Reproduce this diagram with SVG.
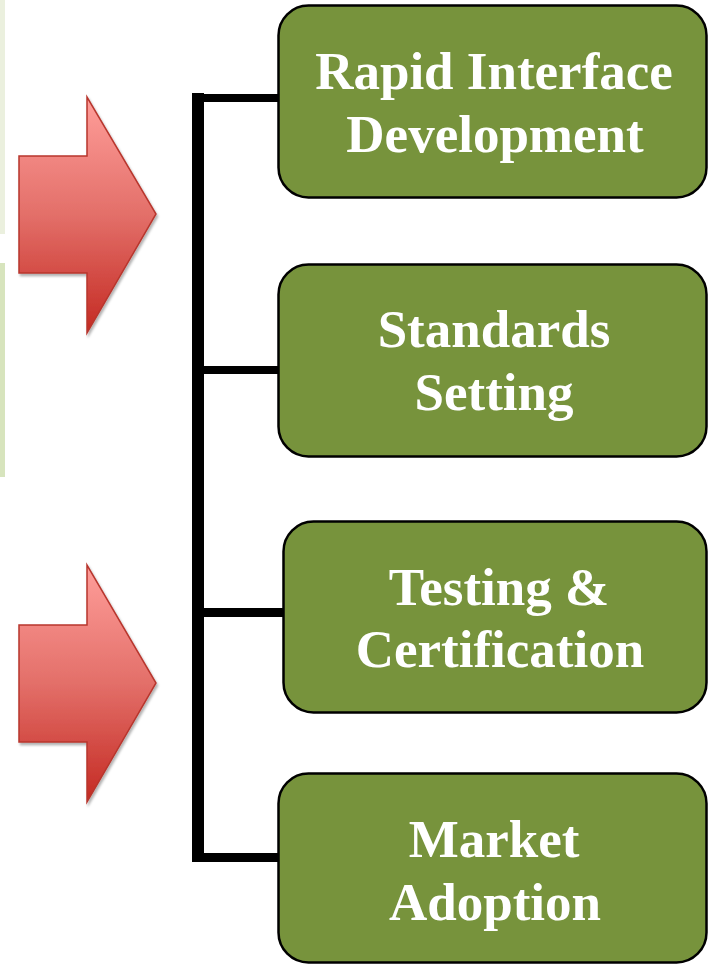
<svg xmlns="http://www.w3.org/2000/svg" width="708" height="965" viewBox="0 0 708 965">
<style>
.box{fill:#77933c;stroke:#000;stroke-width:2.5}
.lbl{font-family:"Liberation Serif","Times New Roman",serif;font-weight:bold;font-size:53px;fill:#fff;text-anchor:middle}
.arrow{fill:url(#redgrad);stroke:#b8362d;stroke-width:1.5;filter:url(#shadow)}
.conn{fill:#000}
</style>
<defs>
<linearGradient id="redgrad" x1="0" y1="0" x2="0" y2="1">
<stop offset="0" stop-color="#ff9e9a"/>
<stop offset="0.5" stop-color="#e36f69"/>
<stop offset="1" stop-color="#c42a22"/>
</linearGradient>
<filter id="shadow" x="-10%" y="-10%" width="130%" height="130%">
<feDropShadow dx="1.5" dy="2.5" stdDeviation="1.2" flood-color="#000" flood-opacity="0.3"/>
</filter>
</defs>
<g id="side-strips">
<rect x="0" y="0" width="5" height="234" fill="#ebf0de"/>
<rect x="0" y="263" width="5" height="214" fill="#d7e4bd"/>
</g>
<g id="arrow1">
<polygon class="arrow" points="19,156 87,156 87,97 156,214 87,333 87,273 19,273"/>
</g>
<g id="arrow2">
<polygon class="arrow" points="19,625 87,625 87,565 156,683 87,802 87,742 19,742"/>
</g>
<g id="connectors">
<rect class="conn" x="192" y="93" width="12" height="769"/>
<rect class="conn" x="198" y="94" width="82" height="8"/>
<rect class="conn" x="198" y="366" width="82" height="8"/>
<rect class="conn" x="198" y="608" width="87" height="9"/>
<rect class="conn" x="198" y="853" width="82" height="9"/>
</g>
<g id="node-rapid">
<rect class="box" x="278.5" y="5.5" width="428" height="192" rx="30"/>
<text class="lbl" x="494" y="89">Rapid Interface</text>
<text class="lbl" x="495" y="152">Development</text>
</g>
<g id="node-standards">
<rect class="box" x="278.5" y="264.5" width="428" height="192" rx="30"/>
<text class="lbl" x="494" y="347">Standards</text>
<text class="lbl" x="494" y="410">Setting</text>
</g>
<g id="node-testing">
<rect class="box" x="283.5" y="521.5" width="423" height="191" rx="30"/>
<text class="lbl" x="499" y="605">Testing &amp;</text>
<text class="lbl" x="500" y="667">Certification</text>
</g>
<g id="node-market">
<rect class="box" x="278.5" y="773.5" width="428" height="189" rx="30"/>
<text class="lbl" x="494" y="857">Market</text>
<text class="lbl" x="495" y="920">Adoption</text>
</g>
</svg>
